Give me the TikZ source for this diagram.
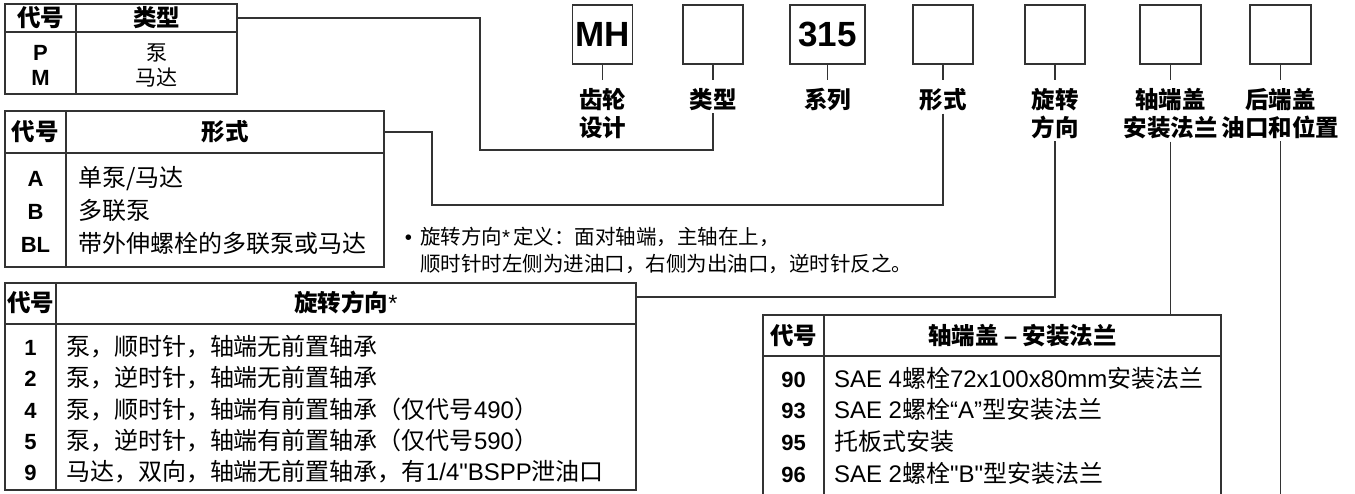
\documentclass[tikz,border=0pt]{standalone}
\usepackage{fontspec}
\setmainfont{Liberation Sans}[Ligatures=TeXOff]
\newfontfamily\zh{Noto Sans CJK SC}
\usetikzlibrary{positioning}

\begin{document}
\begin{tikzpicture}[x=1pt,y=-1pt,
  every node/.style={inner sep=0pt,outer sep=0pt},
  frame/.style={draw=black!80,line width=1.3pt,anchor=north west},
  tabline/.style={draw=black!80,line width=1.3pt},
  wire/.style={draw=black!80,line width=1.2pt},
  codebox/.style={draw=black!80,line width=1.3pt,minimum width=60pt,minimum height=59pt,font=\fontsize{35}{35}\selectfont\bfseries},
  lbl/.style={align=center,font=\fontsize{23.5}{28}\selectfont\zh\bfseries},
  hd/.style={text height=20pt,text depth=3pt,font=\fontsize{23.5}{28}\selectfont\zh\bfseries},
  code/.style={text height=20pt,text depth=3pt,font=\fontsize{22}{28}\selectfont\bfseries},
  txt/.style={anchor=west,text height=20pt,text depth=3pt,font=\fontsize{24}{28}\selectfont},
  note/.style={anchor=west,text height=17pt,text depth=3pt,font=\fontsize{20.5}{26}\selectfont}]
\fill[white] (0,0) rectangle (1355,494);
\useasboundingbox (0,0) rectangle (1355,494);

% model code boxes
\node[codebox] (mh) at (602.5,34.5) {MH};
\node[codebox] (tp) at (713,34.5) {};
\node[codebox,minimum width=75pt] (ser) at (827.5,34.5) {315};
\node[codebox] (fm) at (943,34.5) {};
\node[codebox] (rot) at (1055,34.5) {};
\node[codebox,minimum width=61pt] (sh) at (1170.5,34.5) {};
\node[codebox,minimum width=61pt] (rear) at (1280.5,34.5) {};
\node[lbl,below=24pt of mh] (lmh) {齿轮\\设计};
\node[lbl,below=24pt of tp] (ltp) {类型};
\node[lbl,below=24pt of ser] (lser) {系列};
\node[lbl,below=24pt of fm] (lfm) {形式};
\node[lbl,below=24pt of rot] (lrot) {旋转\\方向};
\node[lbl,below=24pt of sh] (lsh) {轴端盖\\安装法兰};
\node[lbl,below=24pt of rear] (lrear) {后端盖\\油口和位置};
\foreach \b in {mh,tp,ser,fm,rot,sh,rear} \draw[wire,shorten >=8pt] (\b) -- (l\b);

% type table
\node[frame,minimum width=232pt,minimum height=28pt] (t1head) at (5,4) {};
\node[frame,minimum width=232pt,minimum height=62pt,anchor=north] (t1body) at (t1head.south) {};
\draw[tabline] (76,4) -- (76,94);
\node[hd] (t1c) at (40.5,18) {代号};
\node[hd] (t1t) at (156.5,18) {类型};
\node[code] (t1p) at (40.5,52) {P};
\node[code] (t1m) at (40.5,77) {M};
\node[txt,anchor=center,font=\fontsize{21}{26}\selectfont\zh] (t1pt) at (156.5,52) {泵};
\node[txt,anchor=center,font=\fontsize{21}{26}\selectfont\zh] (t1mt) at (156.5,77) {马达};

% form table
\node[frame,minimum width=379pt,minimum height=42pt] (t2head) at (5,111) {};
\node[frame,minimum width=379pt,minimum height=114pt,anchor=north] (t2body) at (t2head.south) {};
\draw[tabline] (66,111) -- (66,267);
\node[hd] (t2c) at (35.5,132) {代号};
\node[hd] (t2t) at (225,132) {形式};
\node[code] (t2a) at (35.5,178) {A};
\node[code] (t2b) at (35.5,211) {B};
\node[code] (t2bl) at (35.5,244) {BL};
\node[txt] (t2at) at (78,178) {{\zh 单泵/马达}};
\node[txt] (t2bt) at (78,211) {{\zh 多联泵}};
\node[txt] (t2blt) at (78,244) {{\zh 带外伸螺栓的多联泵或马达}};

% note
\node[note] (note1) at (420,238) {{\zh 旋转方向}*\,{\zh 定义：面对轴端，主轴在上，}};
\node[note] (note2) at (420,265) {{\zh 顺时针时左侧为进油口，右侧为出油口，逆时针反之。}};
\node[note,left=8pt of note1] (dot) {•};

% rotation table
\node[frame,minimum width=631pt,minimum height=41pt] (t3head) at (5,283) {};
\node[frame,minimum width=631pt,minimum height=166pt,anchor=north] (t3body) at (t3head.south) {};
\draw[tabline] (56,283) -- (56,490);
\coordinate (t3in) at (636,297);
\node[hd] (t3c) at (30.5,303.5) {代号};
\node[hd] (t3t) at (346,303.5) {旋转方向{\rmfamily\mdseries *}};
\node[code] (t3r1) at (30.5,347) {1};
\node[code] (t3r2) at (30.5,378) {2};
\node[code] (t3r4) at (30.5,410) {4};
\node[code] (t3r5) at (30.5,441) {5};
\node[code] (t3r9) at (30.5,472) {9};
\node[txt] (t3t1) at (66,347) {{\zh 泵，顺时针，轴端无前置轴承}};
\node[txt] (t3t2) at (66,378) {{\zh 泵，逆时针，轴端无前置轴承}};
\node[txt] (t3t4) at (66,410) {{\zh 泵，顺时针，轴端有前置轴承（仅代号}490{\zh ）}};
\node[txt] (t3t5) at (66,441) {{\zh 泵，逆时针，轴端有前置轴承（仅代号}590{\zh ）}};
\node[txt] (t3t9) at (66,472) {{\zh 马达，双向，轴端无前置轴承，有}1/4"BSPP{\zh 泄油口}};

% shaft cover table (open at the bottom)
\node[frame,minimum width=458pt,minimum height=41pt] (t4head) at (763,315) {};
\draw[tabline] (763,356) -- (763,496) (1221,356) -- (1221,496) (824,315) -- (824,496);
\node[hd] (t4c) at (793.5,336) {代号};
\node[hd] (t4t) at (1022.5,336) {轴端盖 {\rmfamily –} 安装法兰};
\node[code] (t4r90) at (793.5,379) {90};
\node[code] (t4r93) at (793.5,410) {93};
\node[code] (t4r95) at (793.5,442) {95};
\node[code] (t4r96) at (793.5,474) {96};
\node[txt] (t4t90) at (834,379) {SAE 4{\zh 螺栓}72x100x80mm{\zh 安装法兰}};
\node[txt] (t4t93) at (834,410) {SAE 2{\zh 螺栓}“A”{\zh 型安装法兰}};
\node[txt] (t4t95) at (834,442) {{\zh 托板式安装}};
\node[txt] (t4t96) at (834,474) {SAE 2{\zh 螺栓}"B"{\zh 型安装法兰}};
\coordinate (rearend) at (1281,494);

% leaders from the code boxes to the tables
\draw[wire,shorten <=3pt] (ltp.south) |- (480,150) |- (t1head.east);
\draw[wire,shorten <=3pt] (lfm.south) |- (432,205) |- (t2head.east);
\draw[wire,shorten <=3pt] (lrot.south) |- (t3in);
\draw[wire,shorten <=3pt] (lsh.south) -- (lsh.south |- t4head.north);
\draw[wire,shorten <=3pt] (lrear.south) -- (lrear.south |- rearend);
\end{tikzpicture}
\end{document}
